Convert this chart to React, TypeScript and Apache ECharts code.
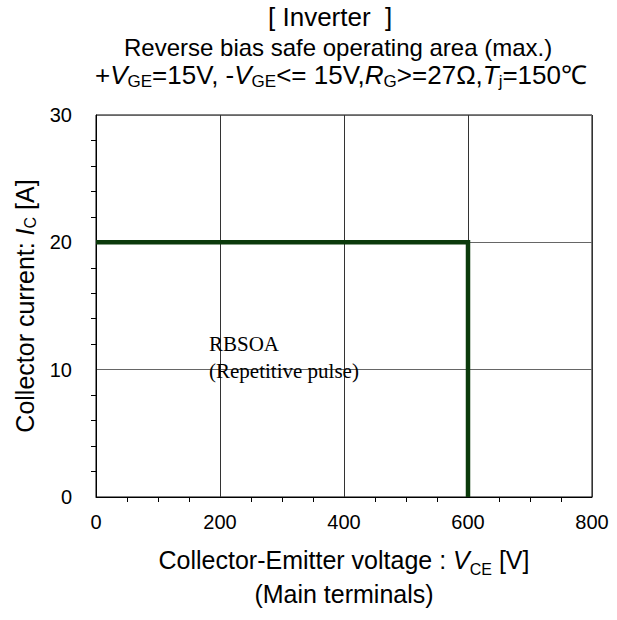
import React, { useEffect, useRef } from "react";
import * as echarts from "echarts";

// Data
const voltage = [0, 600, 600];
const current = [20, 20, 0];
const xMin = 0, xMax = 800, xStep = 200;
const yMin = 0, yMax = 30, yStep = 10;
const titleLine1 = "[ Inverter  ]";
const titleLine2 = "Reverse bias safe operating area (max.)";
const titleLine3 =
  "+{i|V}{s|GE}=15V, -{i|V}{s|GE}<= 15V,{i|R}{s|G}>=27Ω,{i|T}{s|j}=150℃";
const xName = "Collector-Emitter voltage : {i|V}{s|CE} [V]\n(Main terminals)";
const yName = "Collector current: {i|I}{s|C} [A]";
const annotation = "RBSOA\n(Repetitive pulse)";

const SANS = '"Liberation Sans", Arial, Helvetica, sans-serif';
const SERIF = '"Liberation Serif", "Times New Roman", serif';

const richFor = (size: number, lh: number) => ({
  i: { fontStyle: "italic", fontSize: size, fontFamily: SANS, color: "#000", lineHeight: lh },
  s: { fontSize: Math.round(size * 0.65), fontFamily: SANS, color: "#000", verticalAlign: "bottom", lineHeight: Math.round(size * 0.72) },
});

export default function App() {
  const ref = useRef<HTMLDivElement>(null);
  useEffect(() => {
    if (!ref.current) return;
    const chart = echarts.init(ref.current, undefined, { renderer: "svg" });
    const option: any = {
      animation: false,
      backgroundColor: "#fff",
      textStyle: { fontFamily: SANS, color: "#000" },
      title: [
        {
          text: titleLine1,
          left: 268,
          top: 3,
          padding: 0,
          textStyle: { fontFamily: SANS, fontSize: 26, fontWeight: "normal", color: "#000", lineHeight: 28 },
        },
        {
          text: titleLine2,
          left: 124,
          top: 34,
          padding: 0,
          textStyle: { fontFamily: SANS, fontSize: 24, fontWeight: "normal", color: "#000", lineHeight: 26 },
        },
        {
          text: titleLine3,
          left: 95,
          top: 60,
          padding: 0,
          textStyle: {
            fontFamily: SANS,
            fontSize: 26,
            fontWeight: "normal",
            color: "#000",
            lineHeight: 30,
            rich: richFor(26, 30),
          },
        },
      ],
      grid: {
        left: 96,
        right: 25,
        top: 115,
        bottom: 123,
        show: true,
        borderColor: "#000",
        borderWidth: 1,
        containLabel: false,
      },
      xAxis: {
        type: "value",
        min: xMin,
        max: xMax,
        interval: xStep,
        name: xName,
        nameLocation: "middle",
        nameGap: 46,
        nameTextStyle: {
          fontFamily: SANS,
          fontSize: 25,
          color: "#000",
          lineHeight: 34,
          rich: richFor(25, 34),
        },
        axisLine: { show: true, lineStyle: { color: "#000", width: 1 } },
        axisTick: { show: false },
        minorTick: { show: true, splitNumber: 4, length: 5, lineStyle: { color: "#000", width: 1 } },
        axisLabel: { fontFamily: SANS, fontSize: 20, color: "#000", margin: 15 },
        splitLine: { show: true, lineStyle: { color: "#333", width: 1 } },
      },
      yAxis: {
        type: "value",
        min: yMin,
        max: yMax,
        interval: yStep,
        name: yName,
        nameLocation: "middle",
        nameGap: 55,
        nameTextStyle: {
          fontFamily: SANS,
          fontSize: 25,
          color: "#000",
          lineHeight: 28,
          rich: richFor(25, 28),
        },
        axisLine: { show: true, lineStyle: { color: "#000", width: 1 } },
        axisTick: { show: false },
        minorTick: { show: true, splitNumber: 5, length: 5, lineStyle: { color: "#000", width: 1 } },
        axisLabel: { fontFamily: SANS, fontSize: 20, color: "#000", margin: 24 },
        splitLine: { show: true, lineStyle: { color: "#666", width: 1 } },
      },
      graphic: [
        {
          type: "text",
          left: 209,
          top: 330,
          z: 100,
          style: {
            text: annotation,
            font: `21px ${SERIF}`,
            lineHeight: 27,
            fill: "#000",
          },
        },
      ],
      series: [
        {
          type: "line",
          data: voltage.map((v, i) => [v, current[i]]),
          symbol: "none",
          lineStyle: { color: "#0b3a0b", width: 4.5, cap: "butt", join: "miter" },
          z: 5,
        },
      ],
    };
    chart.setOption(option);
    return () => chart.dispose();
  }, []);
  return (
    <div
      ref={ref}
      style={{ position: "fixed", left: 0, top: 0, width: 617, height: 620, background: "#fff" }}
    />
  );
}
